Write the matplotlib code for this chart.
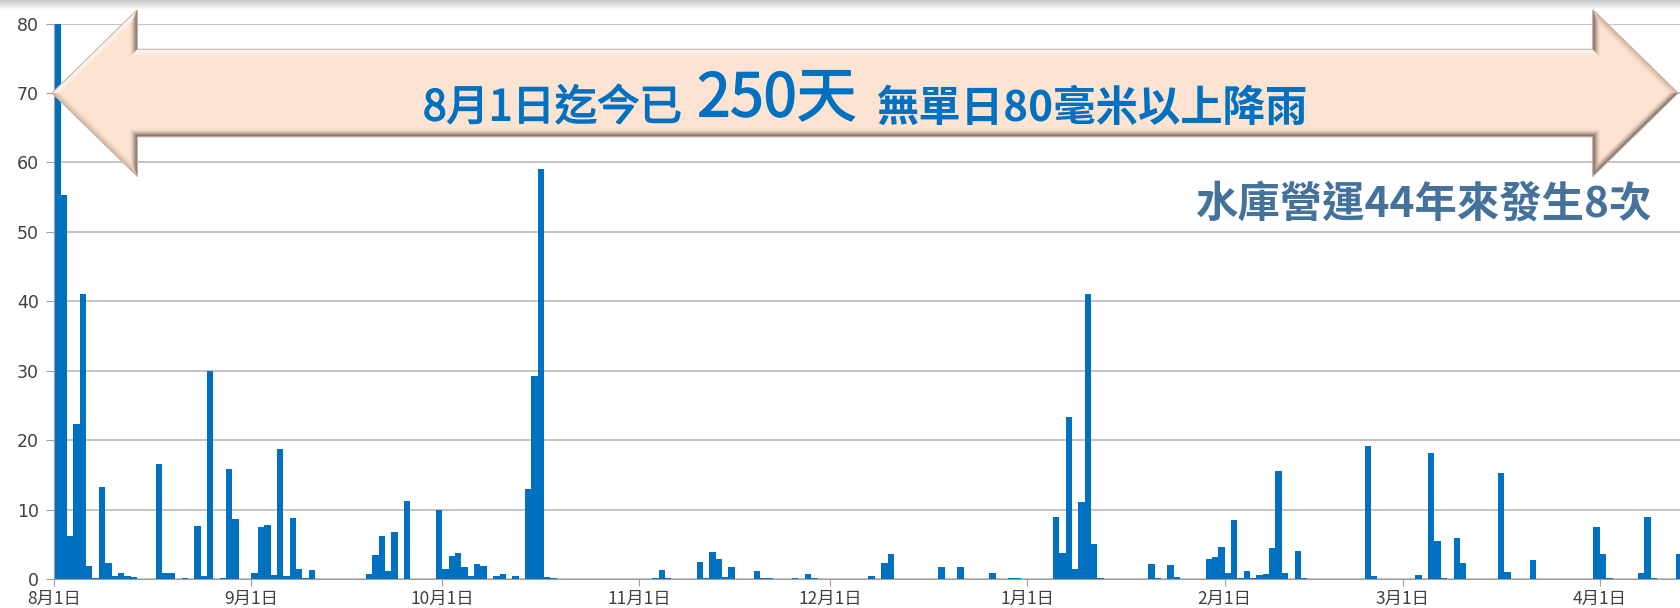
import numpy as np
import pandas as pd
import matplotlib
matplotlib.use('Agg')
import matplotlib.pyplot as plt
import matplotlib.dates as mdates
import matplotlib.patheffects as pe
from matplotlib.patches import Polygon

plt.rcParams['font.family'] = ['Noto Sans CJK TC', 'DejaVu Sans']

# 每日雨量 (mm)
rain_dates = [
    '2017-08-01', '2017-08-02', '2017-08-03', '2017-08-04', '2017-08-05', '2017-08-06',
    '2017-08-07', '2017-08-08', '2017-08-09', '2017-08-10', '2017-08-11', '2017-08-12',
    '2017-08-13', '2017-08-17', '2017-08-18', '2017-08-19', '2017-08-21', '2017-08-23',
    '2017-08-24', '2017-08-25', '2017-08-27', '2017-08-28', '2017-08-29',
    '2017-09-01', '2017-09-02', '2017-09-03', '2017-09-04', '2017-09-05', '2017-09-06',
    '2017-09-07', '2017-09-08', '2017-09-09', '2017-09-10', '2017-09-19', '2017-09-20',
    '2017-09-21', '2017-09-22', '2017-09-23', '2017-09-25', '2017-09-30',
    '2017-10-01', '2017-10-02', '2017-10-03', '2017-10-04', '2017-10-05', '2017-10-06',
    '2017-10-07', '2017-10-09', '2017-10-10', '2017-10-12', '2017-10-14', '2017-10-15',
    '2017-10-16', '2017-10-17', '2017-10-18',
    '2017-11-03', '2017-11-04', '2017-11-05', '2017-11-10', '2017-11-11', '2017-11-12',
    '2017-11-13', '2017-11-14', '2017-11-15', '2017-11-19', '2017-11-20', '2017-11-21',
    '2017-11-25', '2017-11-27', '2017-11-28',
    '2017-12-07', '2017-12-09', '2017-12-10', '2017-12-18', '2017-12-21', '2017-12-26',
    '2017-12-29', '2017-12-30',
    '2018-01-05', '2018-01-06', '2018-01-07', '2018-01-08', '2018-01-09', '2018-01-10',
    '2018-01-11', '2018-01-12', '2018-01-20', '2018-01-21', '2018-01-23', '2018-01-24',
    '2018-01-29', '2018-01-30', '2018-01-31',
    '2018-02-01', '2018-02-02', '2018-02-03', '2018-02-04', '2018-02-05', '2018-02-06',
    '2018-02-07', '2018-02-08', '2018-02-09', '2018-02-10', '2018-02-12', '2018-02-13',
    '2018-02-23', '2018-02-24',
    '2018-03-03', '2018-03-05', '2018-03-06', '2018-03-07', '2018-03-09', '2018-03-10',
    '2018-03-16', '2018-03-17', '2018-03-21', '2018-03-31',
    '2018-04-01', '2018-04-02', '2018-04-07', '2018-04-08', '2018-04-09', '2018-04-13',
]
rain_mm = [
    80.0, 55.3, 6.2, 22.3, 41.0, 1.9,
    0.1, 13.2, 2.3, 0.4, 0.8, 0.5,
    0.3, 16.5, 0.8, 0.8, 0.1, 7.6,
    0.4, 30.0, 0.2, 15.8, 8.7,
    0.9, 7.5, 7.8, 0.6, 18.7, 0.5,
    8.8, 1.5, 0.1, 1.3, 0.7, 3.4,
    6.2, 1.2, 6.7, 11.2, 10.0,
    1.5, 3.3, 3.7, 1.8, 0.5, 2.1,
    1.9, 0.5, 0.7, 0.4, 12.9, 29.3,
    59.1, 0.3, 0.2,
    0.1, 1.3, 0.2, 2.4, 0.1, 3.9,
    2.9, 0.3, 1.7, 1.2, 0.1, 0.2,
    0.2, 0.7, 0.2,
    0.4, 2.3, 3.6, 1.7, 1.7, 0.8,
    0.1, 0.2,
    8.9, 3.8, 23.3, 1.4, 11.1, 41.0,
    5.0, 0.1, 2.2, 0.1, 2.0, 0.3,
    2.9, 3.1, 4.6,
    0.9, 8.5, 0.1, 1.2, 0.1, 0.6,
    0.7, 4.5, 15.5, 0.9, 4.0, 0.2,
    19.1, 0.4,
    0.6, 18.1, 5.5, 0.1, 5.9, 2.3,
    15.3, 1.0, 2.7, 7.5,
    3.6, 0.2, 0.9, 8.9, 0.1, 3.6,
]

month_ticks = ['2017-08-01', '2017-09-01', '2017-10-01', '2017-11-01', '2017-12-01',
               '2018-01-01', '2018-02-01', '2018-03-01', '2018-04-01']
month_labels = ['8月1日', '9月1日', '10月1日', '11月1日', '12月1日',
                '1月1日', '2月1日', '3月1日', '4月1日']
y_ticks = [0, 10, 20, 30, 40, 50, 60, 70, 80]

start = pd.Timestamp('2017-08-01')

fig = plt.figure(figsize=(16.8, 6.08), dpi=100)
ax = fig.add_axes([54.3 / 1680, 29 / 608, 1 - 54.3 / 1680, 555.4 / 608])

# 雨量柱
ax.bar(pd.to_datetime(rain_dates), rain_mm, width=1.0, align='edge',
       color='#0070C0', linewidth=0, zorder=2)

ax.set_xlim(start, start + pd.Timedelta(days=255.6))
ax.set_ylim(0, 80)
ax.set_yticks(y_ticks)
ax.set_xticks(pd.to_datetime(month_ticks))
ax.set_xticklabels(month_labels, fontsize=12.5, color='#404040')
for lab in ax.get_yticklabels():
    lab.set_fontfamily('DejaVu Sans')
ax.tick_params(axis='y', labelsize=12.5, labelcolor='#404040', length=6,
               color='#A0A0A0', pad=5)
ax.tick_params(axis='x', length=5, color='#A0A0A0', pad=3)
ax.yaxis.grid(True, color='#B4B4B4', linewidth=1.1)
ax.set_axisbelow(True)
for s in ['top', 'right']:
    ax.spines[s].set_visible(False)
ax.spines['bottom'].set_color('#A0A0A0')
ax.spines['left'].set_color('#A0A0A0')

# 雙箭頭 (浮凸效果)
x0 = mdates.date2num(start)
xl, xr = x0 - 0.35, x0 + 255.3
yc, h, H, L = 70.0, 6.3, 12.0, 13.4
arrow = np.array([
    [xl, yc], [xl + L, yc + H], [xl + L, yc + h], [xr - L, yc + h],
    [xr - L, yc + H], [xr, yc], [xr - L, yc - H], [xr - L, yc - h],
    [xl + L, yc - h], [xl + L, yc - H],
])


def inset(poly, d):
    p = ax.transData.transform(poly)
    out = []
    n = len(p)
    area = 0.5 * np.sum(p[:, 0] * np.roll(p[:, 1], -1) - np.roll(p[:, 0], -1) * p[:, 1])
    sgn = 1 if area > 0 else -1
    for i in range(n):
        e1 = p[i] - p[i - 1]
        e2 = p[(i + 1) % n] - p[i]
        e1 /= np.hypot(*e1)
        e2 /= np.hypot(*e2)
        n1 = sgn * np.array([-e1[1], e1[0]])
        n2 = sgn * np.array([-e2[1], e2[0]])
        out.append(p[i] + d * (n1 + n2) / (1 + np.dot(n1, n2)))
    return ax.transData.inverted().transform(np.array(out))


face_c = np.array([0.992, 0.894, 0.824])
light = np.array([1.0, 1.0, 1.0])
mid = np.array([0.80, 0.68, 0.61])
dark = np.array([0.36, 0.29, 0.26])
# 每條邊的明暗: 左上斜邊, 左頭背上, 軸上緣, 右頭背上, 右上斜邊, 右下斜邊, 右頭背下, 軸下緣, 左頭背下, 左下斜邊
edge_cols = [light, dark, light, dark, mid, dark, dark, dark, dark, mid]

ax.add_patch(Polygon(arrow, closed=True, facecolor=face_c, edgecolor='none',
                     zorder=5, clip_on=False))
layers = 8
rings = [inset(arrow, k * 1.0) for k in range(layers + 1)]
n_v = len(arrow)
for k in range(layers):
    t = (k + 0.5) / layers
    w = (1 - t) ** 1.5
    a, b = rings[k], rings[k + 1]
    for j in range(n_v):
        j2 = (j + 1) % n_v
        col = edge_cols[j] * w + face_c * (1 - w)
        ax.add_patch(Polygon([a[j], a[j2], b[j2], b[j]], closed=True,
                             facecolor=col, edgecolor=col, linewidth=0.3,
                             zorder=5, clip_on=False))
# 外框細線
ax.add_patch(Polygon(arrow, closed=True, facecolor='none', edgecolor='#C9B3A6',
                     linewidth=0.8, zorder=5, clip_on=False))

# 文字
thick = [pe.withStroke(linewidth=1.1, foreground='#0070C0')]
t1 = ax.text(0.2268, 0.808, '8月1日迄今已', transform=ax.transAxes, fontsize=30.5,
             color='#0070C0', va='bottom', ha='left', zorder=7, path_effects=thick)
t2 = ax.annotate('250天', xy=(1, 0), xycoords=t1, xytext=(11, 0),
                 textcoords='offset points', fontsize=43, color='#0070C0',
                 va='bottom', ha='left', zorder=7, path_effects=thick)
t3 = ax.annotate('無單日80毫米以上降雨', xy=(1, 0), xycoords=t2, xytext=(15, 0),
                 textcoords='offset points', fontsize=30.5, color='#0070C0',
                 fontweight='bold', va='bottom', ha='left', zorder=7)
ax.text(0.7017, 0.675, '水庫營運44年來發生8次', transform=ax.transAxes, fontsize=30.5,
        color='#44729A', fontweight='bold', va='center', ha='left', zorder=7)

# 頂端灰色漸層
band = fig.add_axes([0, 1 - 10 / 608, 1, 10 / 608])
grad = np.linspace(0.78, 1.0, 20).reshape(-1, 1) * np.ones((1, 50))
band.imshow(grad, cmap='gray', vmin=0, vmax=1, aspect='auto', interpolation='bilinear')
band.axis('off')

fig.savefig('out.png', dpi=100)
